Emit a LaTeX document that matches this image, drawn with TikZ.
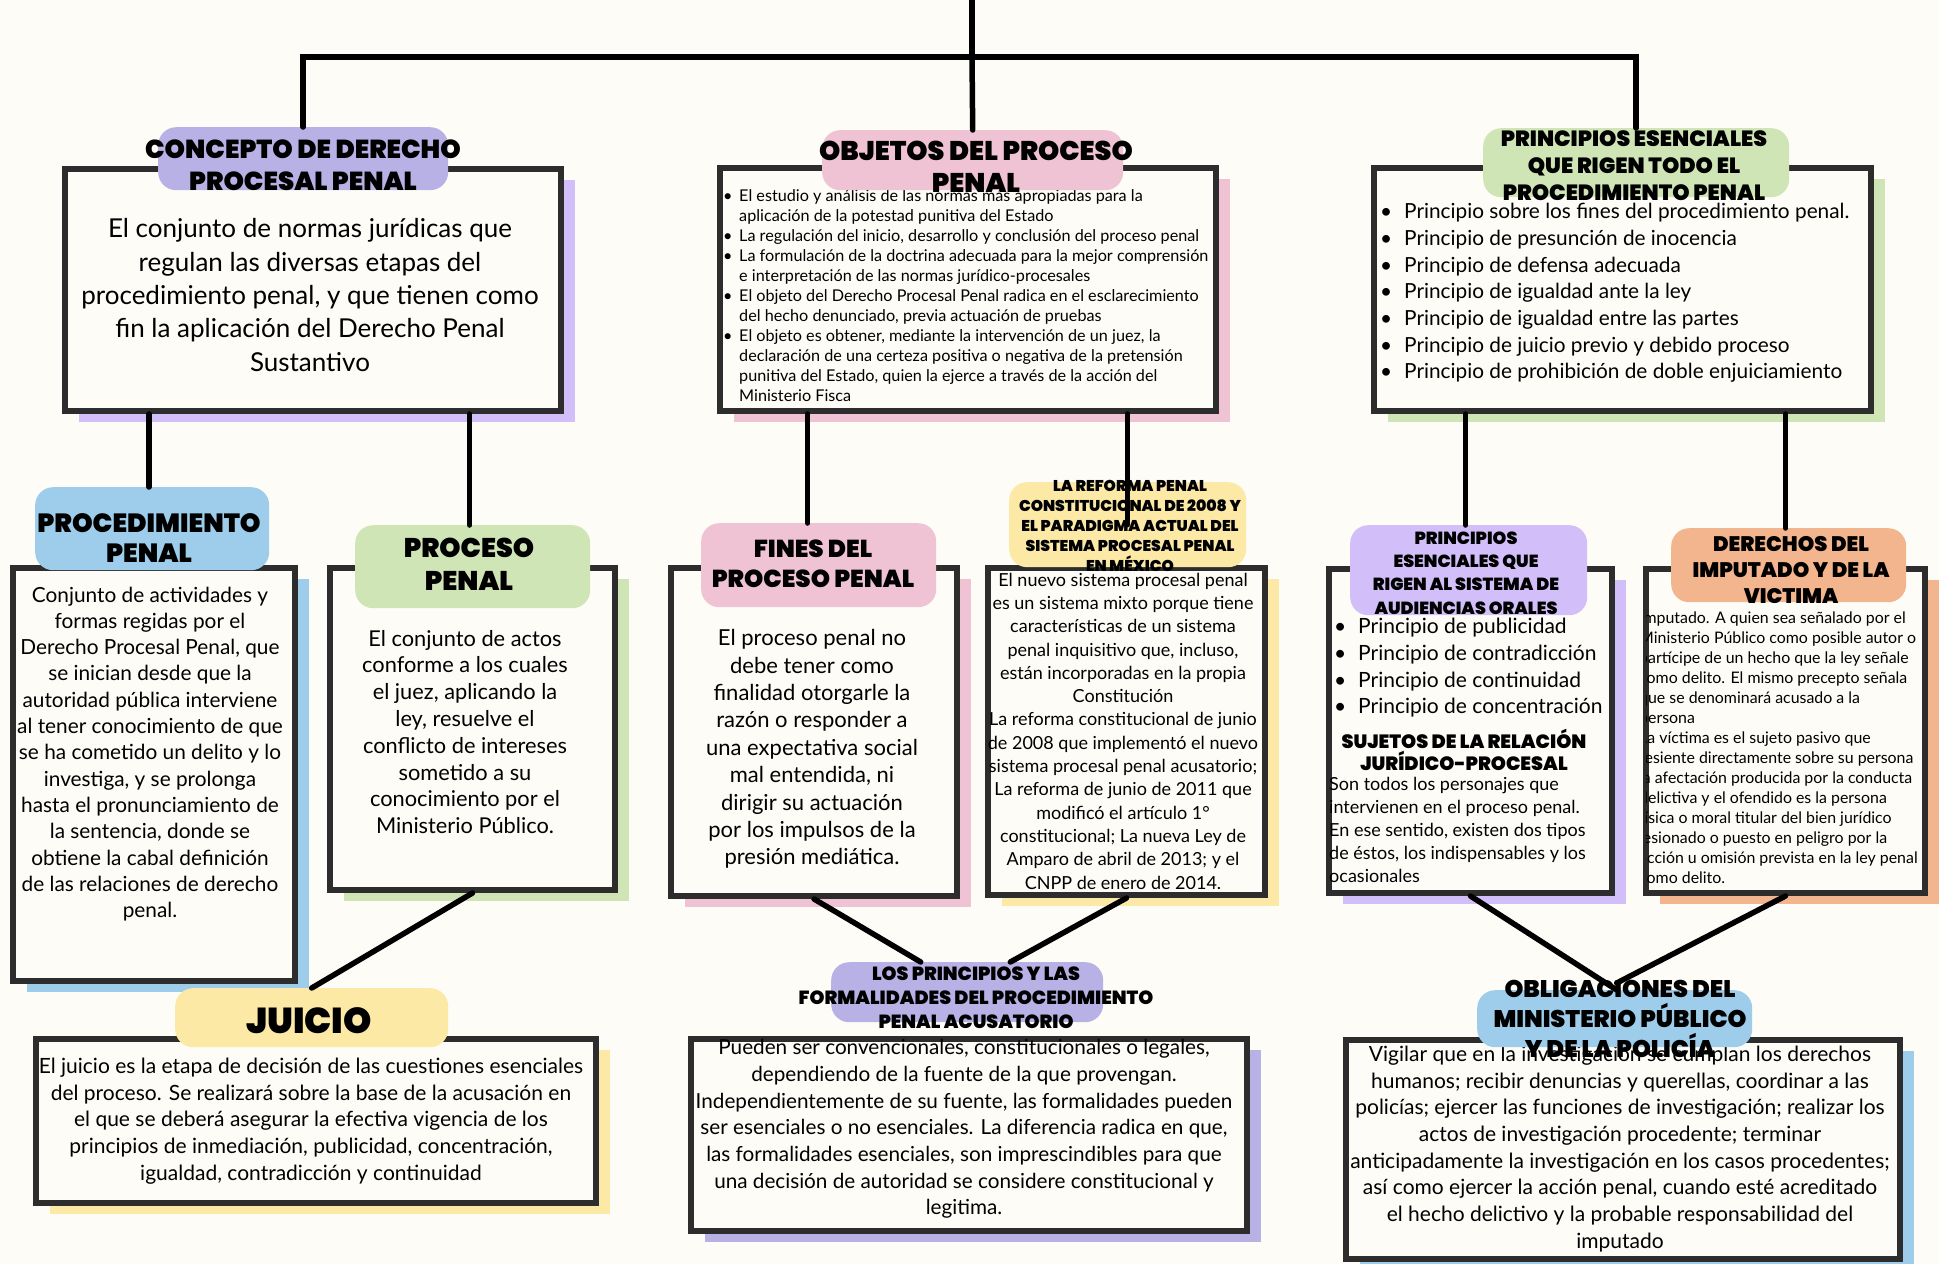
\documentclass[tikz,border=0pt]{standalone}
\usepackage{fontspec}
\setmainfont{Lato}
\newfontfamily\headfont{Poppins Black}
\usetikzlibrary{shadows}
\definecolor{paper}{HTML}{FDFCF6}
\definecolor{ink}{HTML}{2D2D2D}
\definecolor{lilac}{HTML}{B8B1E6}
\definecolor{violet}{HTML}{D2BEF9}
\definecolor{pink}{HTML}{EFC2D4}
\definecolor{green}{HTML}{CFE5B6}
\definecolor{sky}{HTML}{9DCDEA}
\definecolor{butter}{HTML}{FCE9A6}
\definecolor{peach}{HTML}{F2B58E}
\newcommand\fs[2]{\fontsize{#1}{#2}\selectfont}
\newcommand\itm[1][16pt]{\makebox[#1][l]{\textbullet}}
\tikzset{
  box/.style={draw=ink, line width=6, fill=paper, inner sep=0, anchor=north west,
    drop shadow={shadow xshift=14pt, shadow yshift=-11pt, fill=#1, opacity=1}},
  blob/.style={fill=#1, rounded corners=18, inner sep=0, anchor=north west},
  head/.style 2 args={font=\headfont\fs{#1}{#2}, align=center, inner sep=0},
  txt/.style 2 args={font=\fs{#1}{#2}, align=center, inner sep=0},
  link/.style={line width=5.5, line cap=round}
}
\begin{document}
\begin{tikzpicture}[x=1pt,y=-1pt]
  \fill[paper] (0,0) rectangle (1939,1264);
  \useasboundingbox (0,0) rectangle (1939,1264);

  % boxes
  \node[box=violet, minimum width=496, minimum height=242] (concepto) at (62,166) {};
  \node[box=pink, minimum width=496, minimum height=243] (objetos) at (717,165) {};
  \node[box=green, minimum width=497, minimum height=243] (prinesenc) at (1371,165) {};
  \node[box=sky, minimum width=282, minimum height=413] (procedimiento) at (10,565) {};
  \node[box=green, minimum width=285, minimum height=322] (proceso) at (327,565) {};
  \node[box=pink, minimum width=286, minimum height=328] (fines) at (668,565) {};
  \node[box=butter, minimum width=277, minimum height=327] (reforma) at (985,565) {};
  \node[box=violet, minimum width=283, minimum height=324] (audiencias) at (1326,566) {};
  \node[box=peach, minimum width=279, minimum height=324] (derechos) at (1643,566) {};
  \node[box=butter, minimum width=560, minimum height=164] (juicio) at (33,1036) {};
  \node[box=lilac, minimum width=556, minimum height=192] (formal) at (688,1036) {};
  \node[box=sky, minimum width=554, minimum height=219] (oblig) at (1343,1037) {};

  % texts
  \node[txt={26}{33.3}] (cpttxt) at (310,295) {El conjunto de normas jurídicas que\\
    regulan las diversas etapas del\\ procedimiento penal, y que tienen como\\
    fin la aplicación del Derecho Penal\\ Sustantivo};
  \node[txt={16.2}{20}, align=left, anchor=west] (objtxt) at (723,296) {%
    \itm[16pt]El estudio y análisis de las normas más apropiadas para la\\
    \hspace*{16pt}aplicación de la potestad punitiva del Estado\\
    \itm[16pt]La regulación del inicio, desarrollo y conclusión del proceso penal\\
    \itm[16pt]La formulación de la doctrina adecuada para la mejor comprensión\\
    \hspace*{16pt}e interpretación de las normas jurídico-procesales\\
    \itm[16pt]El objeto del Derecho Procesal Penal radica en el esclarecimiento\\
    \hspace*{16pt}del hecho denunciado, previa actuación de pruebas\\
    \itm[16pt]El objeto es obtener, mediante la intervención de un juez, la\\
    \hspace*{16pt}declaración de una certeza positiva o negativa de la pretensión\\
    \hspace*{16pt}punitiva del Estado, quien la ejerce a través de la acción del\\
    \hspace*{16pt}Ministerio Fisca};
  \node[txt={20.8}{26.7}, align=left, anchor=west] (printxt) at (1380,293) {%
    \itm[24pt]Principio sobre los fines del procedimiento penal.\\
    \itm[24pt]Principio de presunción de inocencia\\
    \itm[24pt]Principio de defensa adecuada\\
    \itm[24pt]Principio de igualdad ante la ley\\
    \itm[24pt]Principio de igualdad entre las partes\\
    \itm[24pt]Principio de juicio previo y debido proceso\\
    \itm[24pt]Principio de prohibición de doble enjuiciamiento};
  \node[txt={20.8}{26.3}] (proctxt) at (150,754) {Conjunto de actividades y\\
    formas regidas por el\\ Derecho Procesal Penal, que\\ se inician desde que la\\
    autoridad pública interviene\\ al tener conocimiento de que\\
    se ha cometido un delito y lo\\ investiga, y se prolonga\\
    hasta el pronunciamiento de\\ la sentencia, donde se\\
    obtiene la cabal definición\\ de las relaciones de derecho\\ penal.};
  \node[txt={21.8}{26.8}] (pnltxt) at (465,732) {El conjunto de actos\\
    conforme a los cuales\\ el juez, aplicando la\\ ley, resuelve el\\
    conflicto de intereses\\ sometido a su\\ conocimiento por el\\ Ministerio Público.};
  \node[txt={22}{27.4}] (fintxt) at (812,749) {El proceso penal no\\
    debe tener como\\ finalidad otorgarle la\\ razón o responder a\\
    una expectativa social\\ mal entendida, ni\\ dirigir su actuación\\
    por los impulsos de la\\ presión mediática.};
  \node[txt={18}{23.3}] (reftxt) at (1123,731) {El nuevo sistema procesal penal\\
    es un sistema mixto porque tiene\\ características de un sistema\\
    penal inquisitivo que, incluso,\\ están incorporadas en la propia\\ Constitución\\
    La reforma constitucional de junio\\ de 2008 que implementó el nuevo\\
    sistema procesal penal acusatorio;\\ La reforma de junio de 2011 que\\
    modificó el artículo 1°\\ constitucional; La nueva Ley de\\
    Amparo de abril de 2013; y el\\ CNPP de enero de 2014.};
  \node[txt={21}{26.7}, align=left, anchor=west] (audtxt) at (1334,668) {%
    \itm[24pt]Principio de publicidad\\ \itm[24pt]Principio de contradicción\\
    \itm[24pt]Principio de continuidad\\ \itm[24pt]Principio de concentración};
  \node[head={19.2}{22}] (sujtitle) at (1464,750) {SUJETOS DE LA RELACIÓN\\ JURÍDICO-PROCESAL};
  \node[txt={18}{23}, align=left, anchor=west] (sujtxt) at (1329,830) {Son todos los personajes que\\
    intervienen en el proceso penal.\\ En ese sentido, existen dos tipos\\
    de éstos, los indispensables y los\\ ocasionales};
  \begin{scope}
    \clip (1646,560) rectangle (1939,895);
    \node[txt={15.9}{20}, align=left, anchor=west] (dertxt) at (1639,748) {%
      Imputado. A quien sea señalado por el\\ Ministerio Público como posible autor o\\
      partícipe de un hecho que la ley señale\\ como delito. El mismo precepto señala\\
      que se denominará acusado a la\\ persona\\ La víctima es el sujeto pasivo que\\
      resiente directamente sobre su persona\\ la afectación producida por la conducta\\
      delictiva y el ofendido es la persona\\ física o moral titular del bien jurídico\\
      lesionado o puesto en peligro por la\\ acción u omisión prevista en la ley penal\\
      como delito.};
  \end{scope}
  \node[txt={21}{26.7}] (juitxt) at (311,1121) {El juicio es la etapa de decisión de las cuestiones esenciales\\
    del proceso. Se realizará sobre la base de la acusación en\\
    el que se deberá asegurar la efectiva vigencia de los\\
    principios de inmediación, publicidad, concentración,\\
    igualdad, contradicción y continuidad};
  \node[txt={20.7}{26.7}] (fortxt) at (964,1129) {Pueden ser convencionales, constitucionales o legales,\\
    dependiendo de la fuente de la que provengan.\\
    Independientemente de su fuente, las formalidades pueden\\
    ser esenciales o no esenciales. La diferencia radica en que,\\
    las formalidades esenciales, son imprescindibles para que\\
    una decisión de autoridad se considere constitucional y\\ legitima.};
  \node[txt={21}{26.7}] (obltxt) at (1620,1149) {Vigilar que en la investigación se cumplan los derechos\\
    humanos; recibir denuncias y querellas, coordinar a las\\
    policías; ejercer las funciones de investigación; realizar los\\
    actos de investigación procedente; terminar\\
    anticipadamente la investigación en los casos procedentes;\\
    así como ejercer la acción penal, cuando esté acreditado\\
    el hecho delictivo y la probable responsabilidad del\\ imputado};

  % header blobs
  \node[blob=lilac, minimum width=290, minimum height=63] (cpthead) at (158,127) {};
  \node[blob=pink, minimum width=301, minimum height=60] (objhead) at (822,130) {};
  \node[blob=green, minimum width=306, minimum height=69] (prinhead) at (1483,128) {};
  \node[blob=sky, minimum width=234, minimum height=83] (prochead) at (35,487) {};
  \node[blob=green, minimum width=235, minimum height=83] (pnlhead) at (355,525) {};
  \node[blob=pink, minimum width=235, minimum height=84] (finhead) at (701,523) {};
  \node[blob=butter, minimum width=237, minimum height=85] (refhead) at (1009,482) {};
  \node[blob=violet, minimum width=237, minimum height=90] (audhead) at (1350,525) {};
  \node[blob=peach, minimum width=235, minimum height=74] (derhead) at (1671,528) {};
  \node[blob=butter, minimum width=273, minimum height=59] (juihead) at (175,988) {};
  \node[blob=lilac, minimum width=272, minimum height=60] (forhead) at (831,962) {};
  \node[blob=sky, minimum width=275, minimum height=57] (oblhead) at (1477,990) {};

  % header titles
  \node[head={26}{32}] (cpttitle) at (303,165) {CONCEPTO DE DERECHO\\ PROCESAL PENAL};
  \node[head={27}{32}] (objtitle) at (976,167) {OBJETOS DEL PROCESO\\ PENAL};
  \node[head={22}{27}] (printitle) at (1634,166) {PRINCIPIOS ESENCIALES\\ QUE RIGEN TODO EL\\ PROCEDIMIENTO PENAL};
  \node[head={26.3}{30}] (proctitle) at (149,538) {PROCEDIMIENTO\\ PENAL};
  \node[head={27}{33}] (pnltitle) at (469,564) {PROCESO\\ PENAL};
  \node[head={24.5}{30}] (fintitle) at (813,564) {FINES DEL\\ PROCESO PENAL};
  \node[head={15.6}{20}] (reftitle) at (1130,526) {LA REFORMA PENAL\\ CONSTITUCIONAL DE 2008 Y\\
    EL PARADIGMA ACTUAL DEL\\ SISTEMA PROCESAL PENAL\\ EN MÉXICO};
  \node[head={17.5}{23.3}] (audtitle) at (1466,573) {PRINCIPIOS\\ ESENCIALES QUE\\
    RIGEN AL SISTEMA DE\\ AUDIENCIAS ORALES};
  \node[head={21}{26}] (dertitle) at (1791,570) {DERECHOS DEL\\ IMPUTADO Y DE LA\\ VICTIMA};
  \node[head={36}{40}] (juititle) at (309,1021) {JUICIO};
  \node[head={19}{24}] (fortitle) at (976,998) {LOS PRINCIPIOS Y LAS\\
    FORMALIDADES DEL PROCEDIMIENTO\\ PENAL ACUSATORIO};
  \node[head={24}{30}] (obltitle) at (1620,1019) {OBLIGACIONES DEL\\ MINISTERIO PÚBLICO\\ Y DE LA POLICÍA};

  % connectors
  \coordinate (top) at (972,0);
  \coordinate (hub) at (972,57);
  \draw[link] (top) -- (hub);
  \draw[link] (cpthead.north) |- (hub) -| (prinhead.north);
  \draw[link] (hub) -- (objhead.north);
  \draw[link] ([xshift=-3]prochead.north) -- ([xshift=-3]prochead.north |- concepto.south);
  \draw[link] ([xshift=-3]pnlhead.north) -- ([xshift=-3]pnlhead.north |- concepto.south);
  \draw[link] ([xshift=-11]finhead.north) -- ([xshift=-11]finhead.north |- objetos.south);
  \draw[link] (refhead.center) -- (refhead.center |- objetos.south);
  \draw[link] ([xshift=-3]audhead.north) -- ([xshift=-3]audhead.north |- prinesenc.south);
  \draw[link] ([xshift=-3]derhead.north) -- ([xshift=-3]derhead.north |- prinesenc.south);
  \draw[link] (proceso.south) -- (juihead.north);
  \draw[link] (fines.south) -- (forhead.147);
  \draw[link] (reforma.south) -- (forhead.35);
  \draw[link] (audiencias.south) -- ([xshift=2]oblhead.north);
  \draw[link] (derechos.south) -- ([xshift=2,yshift=7]oblhead.north);
\end{tikzpicture}
\end{document}
